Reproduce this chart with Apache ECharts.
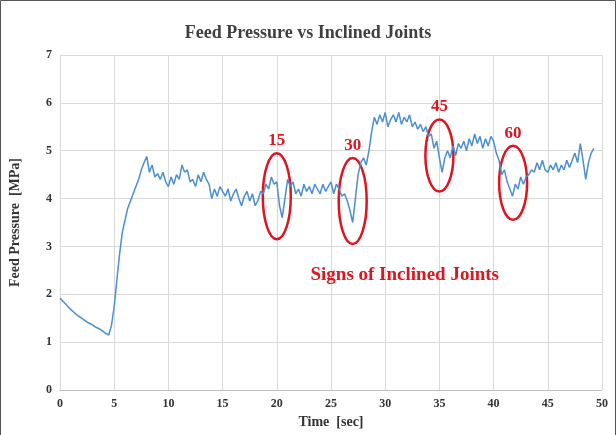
<!DOCTYPE html>
<html>
<head>
<meta charset="utf-8">
<script src="https://cdn.jsdelivr.net/npm/echarts@6/dist/echarts.min.js"></script>
<style>html,body{margin:0;padding:0;background:#fff}#main{width:616px;height:435px}</style>
</head>
<body>
<div id="main"></div>
<script>
var step = 0.25;
var pressure = [1.92,1.86,1.80,1.74,1.68,1.63,1.58,1.54,1.50,1.46,1.42,1.39,1.36,1.32,1.29,1.26,1.22,1.18,1.15,
  1.35,1.75,2.3,2.85,3.3,3.55,3.8,3.95,4.1,4.25,4.4,4.6,4.75,4.88,4.55,4.7,4.45,4.52,4.4,4.55,4.35,
  4.25,4.45,4.3,4.5,4.4,4.7,4.55,4.6,4.35,4.4,4.25,4.5,4.35,4.55,4.4,4.3,4.0,4.2,4.05,4.25,
  4.15,4.05,4.2,3.95,4.1,4.2,4.0,3.85,4.05,4.15,3.95,4.1,3.85,3.95,4.15,4.1,4.3,4.2,4.45,4.3,
  4.35,3.85,3.6,4.0,4.4,4.25,4.35,4.1,4.2,4.05,4.3,4.15,4.25,4.1,4.3,4.2,4.1,4.3,4.15,4.25,
  4.35,4.1,4.3,4.2,4.05,4.1,3.95,3.75,3.5,4.0,4.5,4.75,4.85,4.7,5.0,5.4,5.7,5.55,5.75,5.6,
  5.8,5.5,5.65,5.75,5.6,5.8,5.55,5.7,5.6,5.75,5.5,5.6,5.45,5.55,5.4,5.5,5.3,5.35,5.05,5.2,
  4.85,4.55,4.85,5.0,4.85,5.1,4.9,5.15,5.05,5.2,5.0,5.25,5.1,5.35,5.15,5.3,5.05,5.25,5.1,5.3,
  5.2,4.95,4.8,4.5,4.6,4.35,4.2,4.05,4.3,4.2,4.45,4.3,4.45,4.5,4.6,4.55,4.75,4.6,4.8,4.6,
  4.55,4.7,4.6,4.75,4.55,4.7,4.6,4.8,4.65,4.8,4.95,4.75,5.15,4.8,4.4,4.75,4.95,5.05];
var markX = [20, 27, 35, 41.8];
var markY = [4.05, 3.95, 4.9, 4.33];
var markLabels = ['15', '30', '45', '60'];

var seriesData = pressure.map(function (v, i) { return [i * step, v]; });
var serif = '"Liberation Serif", "DejaVu Serif", serif';
var myChart = echarts.init(document.getElementById('main'));
var option = {
    animation: false,
    title: {
        text: 'Feed Pressure vs Inclined Joints', left: 'center', top: 19,
        textStyle: { fontFamily: serif, fontSize: 18, fontWeight: 'bold', color: '#404040' }
    },
    grid: { left: 60, right: 14, top: 55, bottom: 45 },
    xAxis: {
        type: 'value', min: 0, max: 50, interval: 5,
        name: 'Time  [sec]', nameLocation: 'middle', nameGap: 21,
        nameTextStyle: { fontFamily: serif, fontSize: 14, fontWeight: 'bold', color: '#333' },
        axisLine: { lineStyle: { color: '#bfbfbf' } }, axisTick: { show: false },
        axisLabel: { fontFamily: serif, fontSize: 12, fontWeight: 'bold', color: '#333' },
        splitLine: { show: true, lineStyle: { color: '#d9d9d9' } }
    },
    yAxis: {
        type: 'value', min: 0, max: 7, interval: 1,
        name: 'Feed Pressure  [MPa]', nameLocation: 'middle', nameGap: 38,
        nameTextStyle: { fontFamily: serif, fontSize: 14, fontWeight: 'bold', color: '#333' },
        axisLine: { show: false }, axisTick: { show: false },
        axisLabel: { fontFamily: serif, fontSize: 12, fontWeight: 'bold', color: '#333' },
        splitLine: { lineStyle: { color: '#d9d9d9' } }
    },
    series: [{
        type: 'line', data: seriesData, showSymbol: false,
        lineStyle: { color: '#4a8fd4', width: 1.5 }
    }]
};
myChart.setOption(option);

// ellipses and labels placed via axis scales
var g = [{ type: 'rect', shape: { x: 0.5, y: 0.5, width: 615, height: 440 },
    style: { fill: 'none', stroke: '#555', lineWidth: 1 } }];
markX.forEach(function (x, i) {
    var c = myChart.convertToPixel({ gridIndex: 0 }, [x, markY[i]]);
    var ry = i === 2 ? 36 : (i === 3 ? 37 : 43);
    g.push({ type: 'ellipse', shape: { cx: c[0], cy: c[1], rx: 14, ry: ry },
        style: { fill: 'none', stroke: '#e0141e', lineWidth: 2.5 } });
    g.push({ type: 'text', x: c[0], y: c[1] - ry - 4,
        style: { text: markLabels[i], fill: '#e0141e', font: 'bold 17px ' + serif, align: 'center', verticalAlign: 'bottom' } });
});
var tp = myChart.convertToPixel({ gridIndex: 0 }, [31.8, 2.4]);
g.push({ type: 'text', x: tp[0], y: tp[1],
    style: { text: 'Signs of Inclined Joints', fill: '#e0141e', font: 'bold 19px ' + serif, align: 'center', verticalAlign: 'middle' } });
myChart.setOption({ graphic: g });
</script>
</body>
</html>
